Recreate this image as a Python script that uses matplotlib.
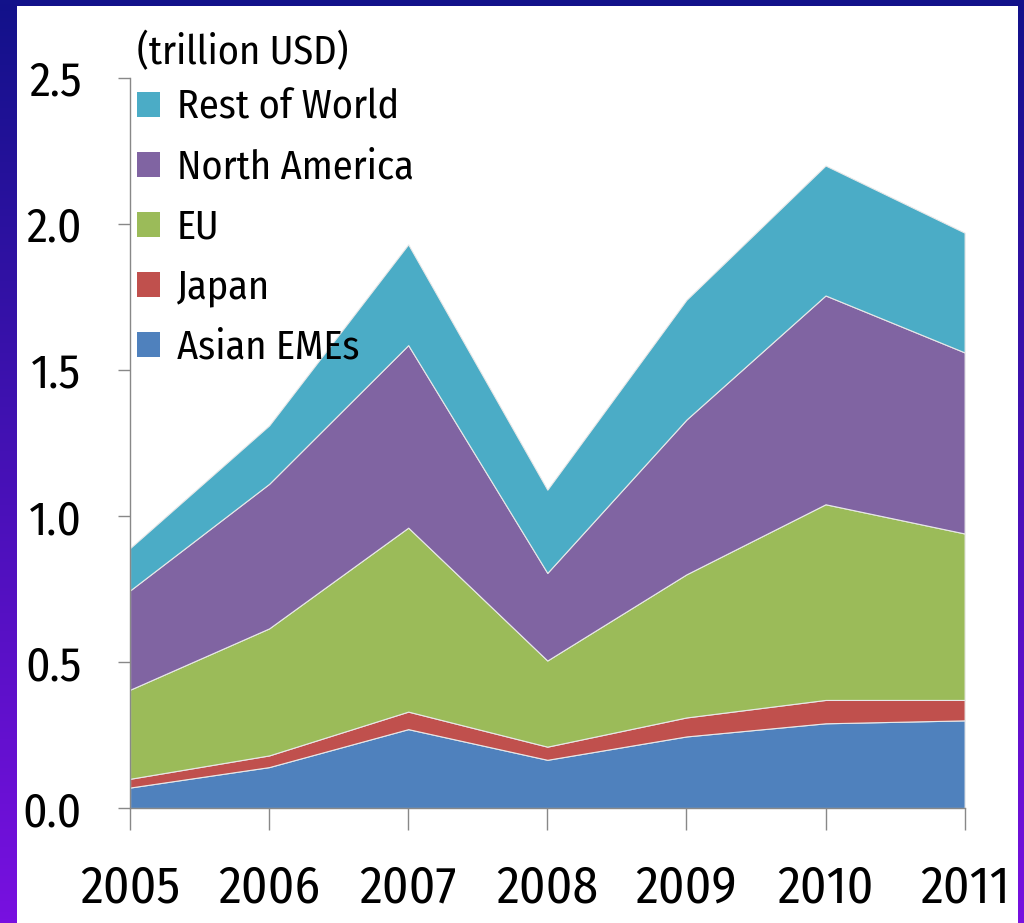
import matplotlib

matplotlib.use("Agg")
import matplotlib.pyplot as plt
import numpy as np
from matplotlib.patches import Patch, Rectangle

years = [2005, 2006, 2007, 2008, 2009, 2010, 2011]

# trillion USD (layer thickness)
asian_emes = [0.07, 0.14, 0.27, 0.165, 0.245, 0.29, 0.30]
japan = [0.03, 0.04, 0.06, 0.045, 0.065, 0.08, 0.07]
eu = [0.305, 0.435, 0.63, 0.295, 0.49, 0.67, 0.57]
north_america = [0.34, 0.495, 0.625, 0.30, 0.53, 0.715, 0.62]
rest_of_world = [0.145, 0.20, 0.345, 0.285, 0.41, 0.445, 0.41]

series = [
    ("Asian EMEs", asian_emes, "#4F81BD"),
    ("Japan", japan, "#C0504D"),
    ("EU", eu, "#9BBB59"),
    ("North America", north_america, "#8064A2"),
    ("Rest of World", rest_of_world, "#4BACC6"),
]

yticks = [0.0, 0.5, 1.0, 1.5, 2.0, 2.5]

plt.rcParams["font.family"] = ["Fira Sans Condensed", "DejaVu Sans"]
plt.rcParams["font.weight"] = "normal"

fig = plt.figure(figsize=(10.24, 9.23), dpi=100)

# fondo con degradado azul -> violeta
bg = fig.add_axes([0, 0, 1, 1], zorder=-10)
top = np.array([0x12, 0x12, 0x8a]) / 255
bot = np.array([0x78, 0x10, 0xe0]) / 255
grad = np.linspace(0, 1, 256)[:, None, None]
img = top * (1 - grad) + bot * grad
bg.imshow(img, aspect="auto", extent=[0, 1, 0, 1], origin="upper")
bg.set_axis_off()
fig.patches.append(Rectangle((0.017, 0.0), 0.977, 0.993, transform=fig.transFigure,
                             facecolor="white", edgecolor="none", zorder=-5))

ax = fig.add_axes([0.127, 0.1246, 0.815, 0.791])
ax.set_facecolor("none")

x = np.array(years)
base = np.zeros(len(years))
for name, vals, color in series:
    v = np.array(vals)
    ax.fill_between(x, base, base + v, facecolor=color, edgecolor="#e8e8e8",
                    linewidth=0.8, label=name)
    base = base + v

ax.set_xlim(years[0], years[-1])
ax.set_ylim(0, 2.5)
ax.set_xticks(years)
ax.set_xticklabels([str(y) for y in years])
ax.set_yticks(yticks)
ax.set_yticklabels([f"{t:.1f}" for t in yticks])

for s in ("top", "right"):
    ax.spines[s].set_visible(False)
for s in ("left", "bottom"):
    ax.spines[s].set_color("#888888")
    ax.spines[s].set_linewidth(1.0)

ax.tick_params(axis="y", direction="out", length=9, width=1.0, color="#888888",
               pad=26, labelsize=34)
ax.tick_params(axis="x", direction="out", length=16, width=1.0, color="#888888",
               pad=24, labelsize=37)

handles = [Patch(facecolor=c, edgecolor="none", label=n) for n, _, c in reversed(series)]
leg = ax.legend(handles=handles, loc="upper left", bbox_to_anchor=(0.008, 1.062),
                frameon=False, fontsize=29, title="(trillion USD)",
                title_fontsize=29, handlelength=0.58, handleheight=0.58,
                handletextpad=0.42, labelspacing=0.52, borderaxespad=0, borderpad=0)
leg._legend_box.align = "left"
leg._legend_box.sep = 11
leg.set_clip_on(False)

fig.savefig("out.png", dpi=100)
